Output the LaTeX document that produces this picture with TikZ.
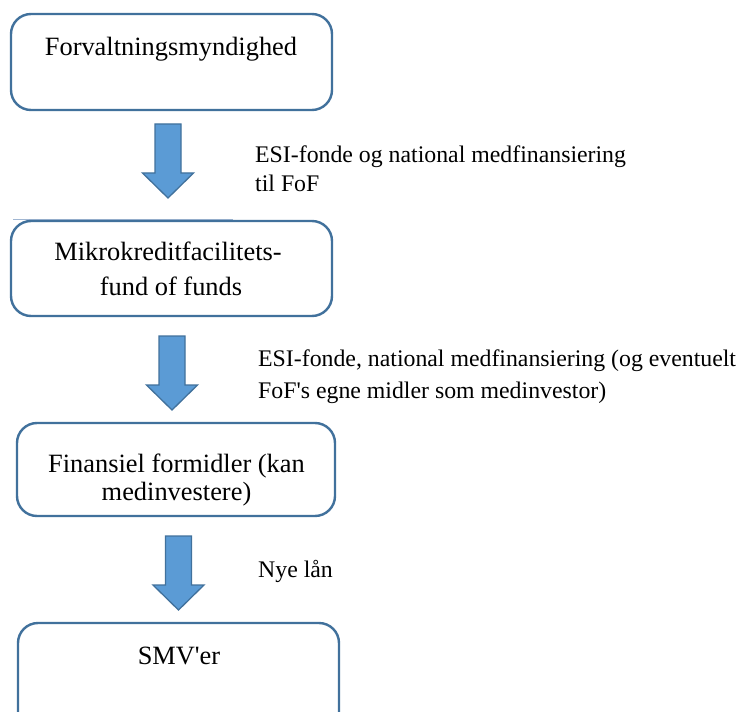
\documentclass[tikz,border=0pt]{standalone}
\usepackage{fontspec}
\setmainfont{Liberation Serif}
\definecolor{boxline}{RGB}{65,113,156}
\definecolor{arrowfill}{RGB}{91,155,213}
\definecolor{faintline}{RGB}{160,182,210}
\tikzset{
  stagebox/.style={draw=boxline, line width=2.4pt, rounded corners=20pt, fill=white, inner sep=0pt},
  boxtext/.style={anchor=base, inner sep=0pt, font=\fontsize{26.4}{34}\selectfont},
  flowtext/.style={anchor=base west, inner sep=0pt, font=\fontsize{23.8}{29}\selectfont},
  blockarrow/.pic={
    \draw[draw=boxline, fill=arrowfill, line width=1.3pt, line join=miter]
      (-13,0) -- (13,0) -- (13,49) -- (25.5,49) -- (0,74) -- (-25.5,49) -- (-13,49) -- cycle;
  }
}
\begin{document}
\begin{tikzpicture}[x=1pt, y=-1pt]
\useasboundingbox (0,0) rectangle (743,711);
\fill[white] (0,0) rectangle (743,711);

% stages
\node[stagebox, minimum width=321pt, minimum height=96pt] (auth) at (171.5,62) {};
\draw[faintline, line width=1.2pt] (13,219.2) -- (233,219.2);
\node[stagebox, minimum width=321pt, minimum height=95pt] (fof) at (171.5,268.5) {};
\node[stagebox, minimum width=318pt, minimum height=93pt] (fi) at (176,469.5) {};
\node[stagebox, minimum width=321pt, minimum height=110pt] (sme) at (178.5,678) {};

% stage titles
\node[boxtext] (authT) at (171,56) {Forvaltningsmyndighed};
\node[boxtext] (fofT1) at (168,260) {Mikrokreditfacilitets-};
\node[boxtext] (fofT2) at (171,295) {fund of funds};
\node[boxtext] (fiT1) at (176.5,472) {Finansiel formidler (kan};
\node[boxtext] (fiT2) at (176.5,500) {medinvestere)};
\node[boxtext] (smeT) at (179,664) {SMV\textquotesingle er};

% flows between stages
\pic at (168,124) {blockarrow};
\pic at (172,336) {blockarrow};
\pic at (178.5,536) {blockarrow};

% flow descriptions
\node[flowtext] (f1a) at (255,163) {ESI-fonde og national medfinansiering};
\node[flowtext] (f1b) at (255,192) {til FoF};
\node[flowtext] (f2a) at (258,366) {ESI-fonde, national medfinansiering (og eventuelt};
\node[flowtext] (f2b) at (258,398) {FoF\textquotesingle s egne midler som medinvestor)};
\node[flowtext] (f3) at (258,577) {Nye lån};
\end{tikzpicture}
\end{document}
